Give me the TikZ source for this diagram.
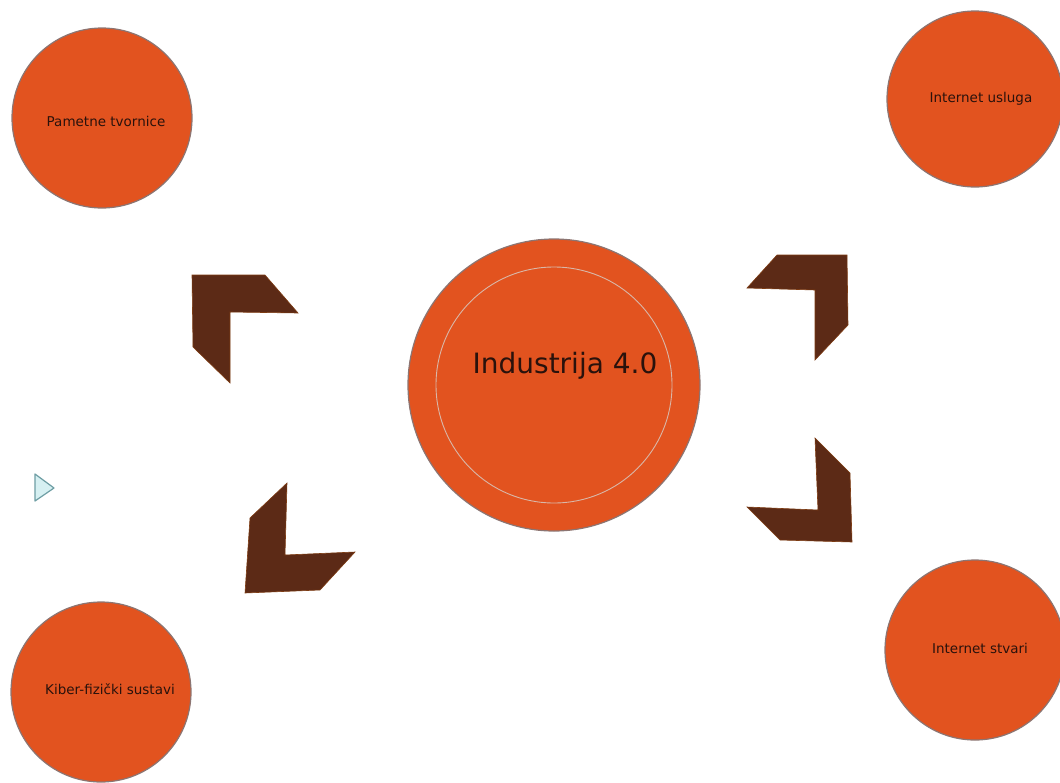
\documentclass[tikz,border=0pt]{standalone}
\usepackage{fontspec}
\setmainfont{DejaVu Sans}
\definecolor{orangefill}{HTML}{E2531F}
\definecolor{ringgray}{HTML}{8C7572}
\definecolor{innerring}{HTML}{D9B7A8}
\definecolor{chevron}{HTML}{5C2A16}
\definecolor{txt}{HTML}{2A120C}
\definecolor{playfill}{HTML}{D6F0F2}
\definecolor{playline}{HTML}{6E9EA4}
\tikzset{
  topic/.style={circle, fill=orangefill, draw=ringgray, line width=1.2pt, minimum size=#1, inner sep=0pt},
  topictext/.style={font=\fontsize{13.5}{15}\selectfont, text=txt},
  chev/.style={fill=chevron, draw=chevron!80!orange, line width=0.6pt, line join=miter},
}
\begin{document}
\begin{tikzpicture}[x=1pt,y=-1pt]
\useasboundingbox (0,0) rectangle (1060,782);
\fill[white] (0,0) rectangle (1060,782);
% central circle
\node[topic=292pt] (center) at (554,385) {};
\draw[innerring, line width=0.9pt] (center.center) circle[radius=118];
\node[font=\fontsize{28}{32}\selectfont, text=txt] (centertext) at (565,366) {Industrija 4.0};
% outer circles
\node[topic=180pt] (tl) at (102,118) {};
\node[topictext] (tltext) at (106,121) {Pametne tvornice};
\node[topic=176pt] (tr) at (975,99) {};
\node[topictext] (trtext) at (981,99) {Internet usluga};
\node[topic=180pt] (br) at (975,650) {};
\node[topictext] (brtext) at (980,648) {Internet stvari};
\node[topic=180pt] (bl) at (101,692) {};
\node[topictext] (bltext) at (110,689) {Kiber-fizički sustavi};
% chevrons
\fill[chev] (192,275) -- (265,275) -- (298,313) -- (230,312) -- (230,383) -- (193,347) -- cycle;
\fill[chev] (747,288) -- (777,255) -- (847,255) -- (848,325) -- (815,360) -- (815,290) -- cycle;
\fill[chev] (815,438) -- (850,473) -- (852,542) -- (780,540) -- (747,507) -- (818,510) -- cycle;
\fill[chev] (287,483) -- (250,518) -- (245,593) -- (320,590) -- (355,552) -- (285,555) -- cycle;
% play marker
\draw[fill=playfill, draw=playline, line width=1.2pt, line join=round] (35,474) -- (35,501) -- (54,488) -- cycle;
\end{tikzpicture}
\end{document}
